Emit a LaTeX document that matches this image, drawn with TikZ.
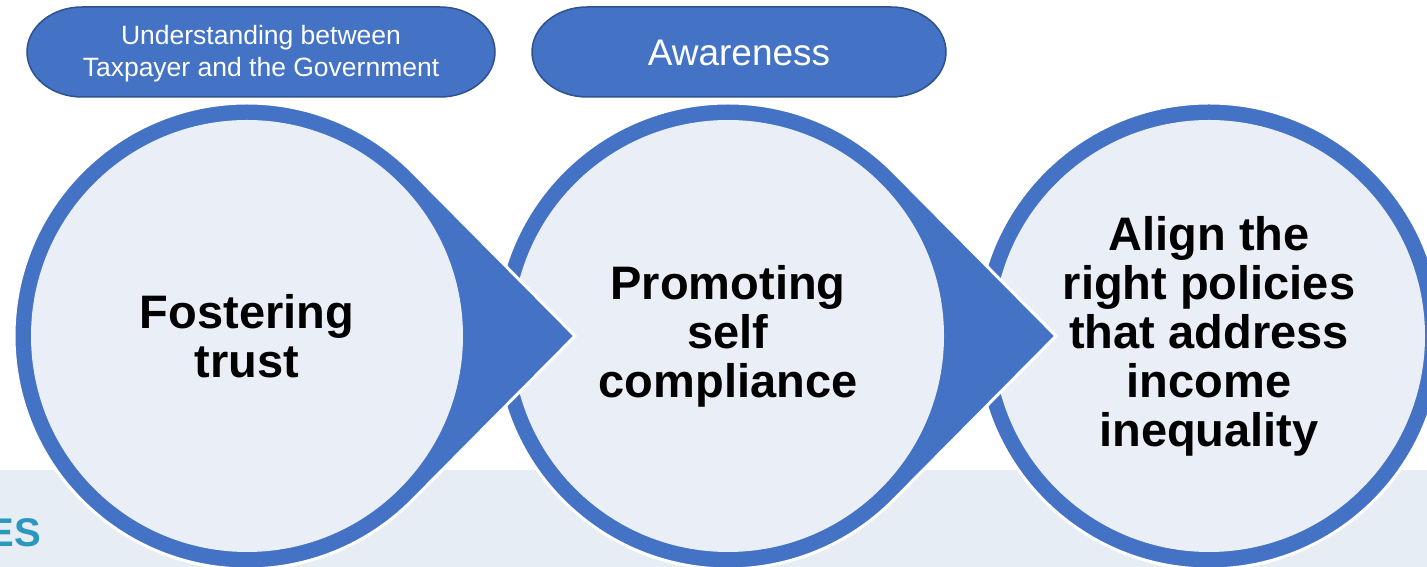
\documentclass[tikz,border=0pt]{standalone}
\usepackage{fontspec}
\setmainfont{Liberation Sans}
\definecolor{ringblue}{HTML}{4472C4}
\definecolor{pilledge}{HTML}{2F528F}
\definecolor{corefill}{HTML}{EAEFF7}
\definecolor{bandfill}{HTML}{E7EDF4}
\definecolor{logoteal}{HTML}{2A97BC}
\begin{document}
\begin{tikzpicture}[x=1pt,y=1pt,
  ring/.style={fill=ringblue, draw=white, line width=3pt},
  core/.style={circle, fill=corefill, minimum size=432pt, inner sep=0pt,
    align=center, text=black, font=\fontsize{47}{49}\selectfont\bfseries},
  pillshape/.style={fill=ringblue, draw=pilledge, line width=1.5pt},
  pilltext/.style={align=center, text=white}]
\useasboundingbox (0,0) rectangle (1427,567);

% light band along the bottom
\fill[bandfill] (0,0) rectangle (1427,97);
\begin{scope}
  \clip (0,0) rectangle (1427,567);
  \node[anchor=base east, text=logoteal, inner sep=0pt,
        font=\fontsize{40}{40}\selectfont\bfseries] (logo) at (41,20) {ES};
\end{scope}

% step 3 (drawn first, the pointers of earlier steps lie over it)
\filldraw[ring] (1209,231) circle[radius=233];
\node[core] (c3) at (1209,231) {Align the\\right policies\\that address\\income\\inequality};

% step 2: circle with a pointer to the right
\begin{scope}[shift={(728,231)}]
  \filldraw[ring] (328,0) -- (45:233) arc[start angle=45,end angle=315,radius=233] -- cycle;
\end{scope}
\node[core] (c2) at (728,231) {Promoting\\self\\compliance};

% step 1
\begin{scope}[shift={(247,231)}]
  \filldraw[ring] (328,0) -- (45:233) arc[start angle=45,end angle=315,radius=233] -- cycle;
\end{scope}
\node[core] (c1) at (247,231) {Fostering\\trust};

% labels above the first two steps
\path[pillshape] (82,560) -- (440,560)
  arc[start angle=90,end angle=-90,x radius=55,y radius=45] -- (82,470)
  arc[start angle=270,end angle=90,x radius=55,y radius=45] -- cycle;
\node[pilltext, font=\fontsize{26.5}{32}\selectfont] (p1) at (261,513)
  {Understanding between\\Taxpayer and the Government};

\path[pillshape] (587,560) -- (891,560)
  arc[start angle=90,end angle=-90,x radius=55,y radius=45] -- (587,470)
  arc[start angle=270,end angle=90,x radius=55,y radius=45] -- cycle;
\node[pilltext, font=\fontsize{37}{40}\selectfont] (p2) at (739,514) {Awareness};
\end{tikzpicture}
\end{document}
